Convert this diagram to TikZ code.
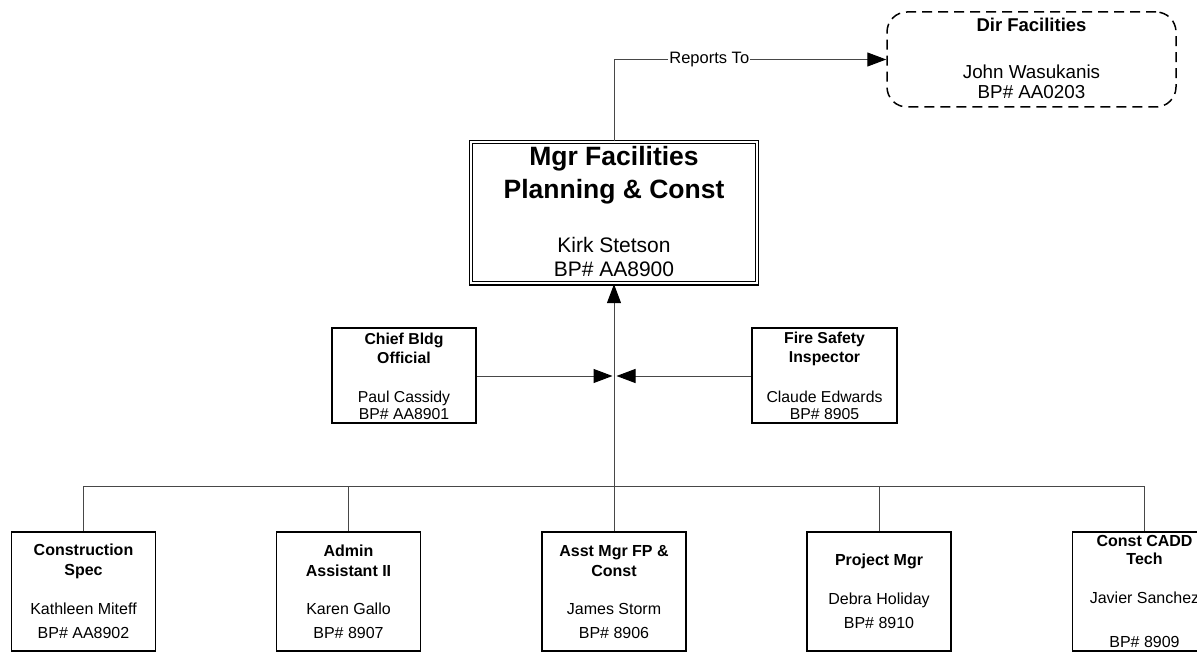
\documentclass[tikz,border=0pt]{standalone}
\usepackage{fontspec}
\setmainfont{Liberation Sans}
\usetikzlibrary{arrows.meta,calc}
\begin{document}
\begin{tikzpicture}[x=1pt,y=-1pt,
  box/.style={draw=black,line width=1.8pt,minimum width=144pt,minimum height=95pt,inner sep=0pt},
  lowbox/.style={box,minimum height=119pt},
  mgrbox/.style={draw=black,double=white,line width=1.3pt,double distance=2pt,minimum width=286pt,minimum height=141.5pt,inner sep=0pt},
  dirbox/.style={draw=black,line width=1.5pt,dash pattern=on 10pt off 6pt,rounded corners=20pt,minimum width=289pt,minimum height=95pt,inner sep=0pt},
  conn/.style={draw=black!72,line width=1pt},
  arr/.style={-{Triangle[length=19pt,width=14pt,black]}},
  ttl/.style={font=\fontsize{16}{20}\selectfont\bfseries,align=center,inner sep=0pt},
  nm/.style={font=\fontsize{16}{24}\selectfont,align=center,inner sep=0pt},
  nmtight/.style={font=\fontsize{15.8}{17}\selectfont,align=center,inner sep=0pt},
  lab/.style={font=\fontsize{16.5}{18}\selectfont,fill=white,inner sep=1pt}
]
\useasboundingbox (0,0) rectangle (1197,652);

% boxes
\node[dirbox] (dir) at (1031.5,59.5) {};
\node[mgrbox] (mgr) at (614,212.75) {};
\node[box] (chief) at (404,375.5) {};
\node[box,minimum width=145pt] (fire) at (824.5,375.5) {};
\node[lowbox] (cons) at (83.5,591.5) {};
\node[lowbox] (admin) at (348.5,591.5) {};
\node[lowbox] (asst) at (614,591.5) {};
\node[lowbox] (pm) at (879,591.5) {};
\node[lowbox] (cadd) at (1144.5,591.5) {};

% texts
\node[font=\fontsize{18.5}{22}\selectfont\bfseries,inner sep=0pt] (dirt) at (1031.5,25) {Dir Facilities};
\node[font=\fontsize{18.8}{19.5}\selectfont,align=center,inner sep=0pt] (dirn) at (1031.5,82) {John Wasukanis\\BP\# AA0203};

\node[font=\fontsize{26.5}{33}\selectfont\bfseries,align=center,inner sep=0pt] (mgrt) at (614,175) {Mgr Facilities\\Planning \& Const};
\node[font=\fontsize{21}{24}\selectfont,align=center,inner sep=0pt] (mgrn) at (614,256.5) {Kirk Stetson\\BP\# AA8900};

\node[ttl,font=\fontsize{15.8}{19}\selectfont\bfseries] (chieft) at (404,348.5) {Chief Bldg\\Official};
\node[nmtight] (chiefn) at (404,405) {Paul Cassidy\\BP\# AA8901};
\node[ttl,font=\fontsize{15.8}{19}\selectfont\bfseries] (firet) at (824.5,348.5) {Fire Safety\\Inspector};
\node[nmtight] (firen) at (824.5,405) {Claude Edwards\\BP\# 8905};

\node[ttl] (const) at (83.5,561) {Construction\\Spec};
\node[nm] (consn) at (83.5,621) {Kathleen Miteff\\BP\# AA8902};
\node[ttl] (admint) at (348.5,561) {Admin\\Assistant II};
\node[nm] (adminn) at (348.5,621) {Karen Gallo\\BP\# 8907};
\node[ttl] (asstt) at (614,561) {Asst Mgr FP \&\\Const};
\node[nm] (asstn) at (614,621) {James Storm\\BP\# 8906};
\node[ttl] (pmt) at (879,561) {Project Mgr};
\node[nm] (pmn) at (879,611) {Debra Holiday\\BP\# 8910};
\node[ttl,font=\fontsize{16}{18}\selectfont\bfseries] (caddt) at (1144.5,550) {Const CADD\\Tech};
\node[nm] (caddn) at (1144.5,598) {Javier Sanchez};
\node[nm] (caddb) at (1144.5,642) {BP\# 8909};

% connectors
\draw[conn,arr] (mgr.north) |- (dir.west) node[lab,pos=0.675] (rt) {Reports To};

\coordinate (jl) at (612.5,376);
\coordinate (jr) at (616.5,376);
\draw[conn,arr] (chief.east |- jl) -- (jl);
\draw[conn,arr] (fire.west |- jr) -- (jr);

\coordinate (bus) at (0,486);
\draw[conn,arr] (asst.north) -- (mgr.south);
\draw[conn] (cons.north) |- (cadd.north |- bus) -- (cadd.north);
\draw[conn] (admin.north) -- (admin.north |- bus);
\draw[conn] (pm.north) -- (pm.north |- bus);
\end{tikzpicture}
\end{document}
